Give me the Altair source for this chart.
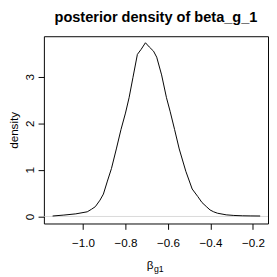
import altair as alt
import pandas as pd

# ---- data ----
x_vals = [-1.143, -1.09, -1.034, -0.980, -0.960, -0.942, -0.920, -0.904, -0.885, -0.866,
          -0.843, -0.821, -0.800, -0.783, -0.765, -0.744, -0.726, -0.706, -0.688, -0.668,
          -0.653, -0.630, -0.607, -0.590, -0.569, -0.547, -0.516, -0.486, -0.460, -0.440,
          -0.420, -0.402, -0.385, -0.367, -0.326, -0.290, -0.250, -0.210, -0.166]
y_vals = [0.01, 0.03, 0.056, 0.10, 0.155, 0.21, 0.35, 0.48, 0.76, 1.03,
          1.45, 1.87, 2.22, 2.55, 2.98, 3.48, 3.59, 3.73, 3.64, 3.55,
          3.42, 3.04, 2.55, 2.26, 1.87, 1.45, 0.97, 0.59, 0.43, 0.30,
          0.215, 0.14, 0.10, 0.07, 0.035, 0.022, 0.015, 0.012, 0.01]
x_ticks = [-1.0, -0.8, -0.6, -0.4, -0.2]
y_ticks = [0, 1, 2, 3]
title_text = "posterior density of beta_g_1"
y_title = "density"
x_title_main = "β"
x_title_sub = "g1"

FONT = "Liberation Sans"
W, H = 231, 193

df = pd.DataFrame({"x": x_vals, "y": y_vals})
xs = alt.Scale(domain=[-1.184, -0.129], nice=False, zero=False)
ys = alt.Scale(domain=[-0.151, 3.87], nice=False, zero=False)

x_axis = alt.Axis(values=x_ticks, format=".1f", title=None, domain=False, grid=False,
                  tickSize=6, tickColor="black", labelColor="black", labelFont=FONT,
                  labelFontSize=12, labelBaseline="middle", labelPadding=14)
y_axis = alt.Axis(values=y_ticks, format="d", title=y_title, domain=False, grid=False,
                  tickSize=6, tickColor="black", labelColor="black", labelFont=FONT,
                  labelFontSize=12, labelAngle=270, labelAlign="center",
                  labelBaseline="middle", labelPadding=9,
                  titleFont=FONT, titleFontSize=12, titleFontWeight="normal",
                  titleColor="black", titleAngle=270, titleAlign="center",
                  titleBaseline="middle", titleX=-31, titleY=H / 2)

zero = alt.Chart(pd.DataFrame({"z": [0]})).mark_rule(
    color="#c8c8c8", strokeWidth=0.7
).encode(y=alt.Y("z:Q", scale=ys, axis=y_axis))

line = alt.Chart(df).mark_line(color="black", strokeWidth=1).encode(
    x=alt.X("x:Q", scale=xs, axis=x_axis),
    y=alt.Y("y:Q", scale=ys, axis=y_axis),
)

lab = pd.DataFrame({"m": [x_title_main], "s": [x_title_sub], "t": [title_text]})
beta = alt.Chart(lab).mark_text(
    font=FONT, fontSize=12, color="black", align="right", baseline="alphabetic"
).encode(x=alt.value(113), y=alt.value(H + 47), text="m:N")
sub = alt.Chart(lab).mark_text(
    font=FONT, fontSize=9, color="black", align="left", baseline="alphabetic"
).encode(x=alt.value(113.5), y=alt.value(H + 49.5), text="s:N")
ttl = alt.Chart(lab).mark_text(
    font=FONT, fontSize=15, fontWeight="bold", color="black",
    align="center", baseline="alphabetic"
).encode(x=alt.value(W / 2), y=alt.value(-14.5), text="t:N")

chart = alt.layer(zero, line, beta, sub, ttl).properties(
    width=W, height=H,
    autosize=alt.AutoSizeParams(type="none"),
    padding={"left": 37, "top": 25, "right": 1, "bottom": 50},
).configure_view(stroke="black", strokeWidth=1)

chart.save("out.html", embed_options={"renderer": "svg", "actions": False})
